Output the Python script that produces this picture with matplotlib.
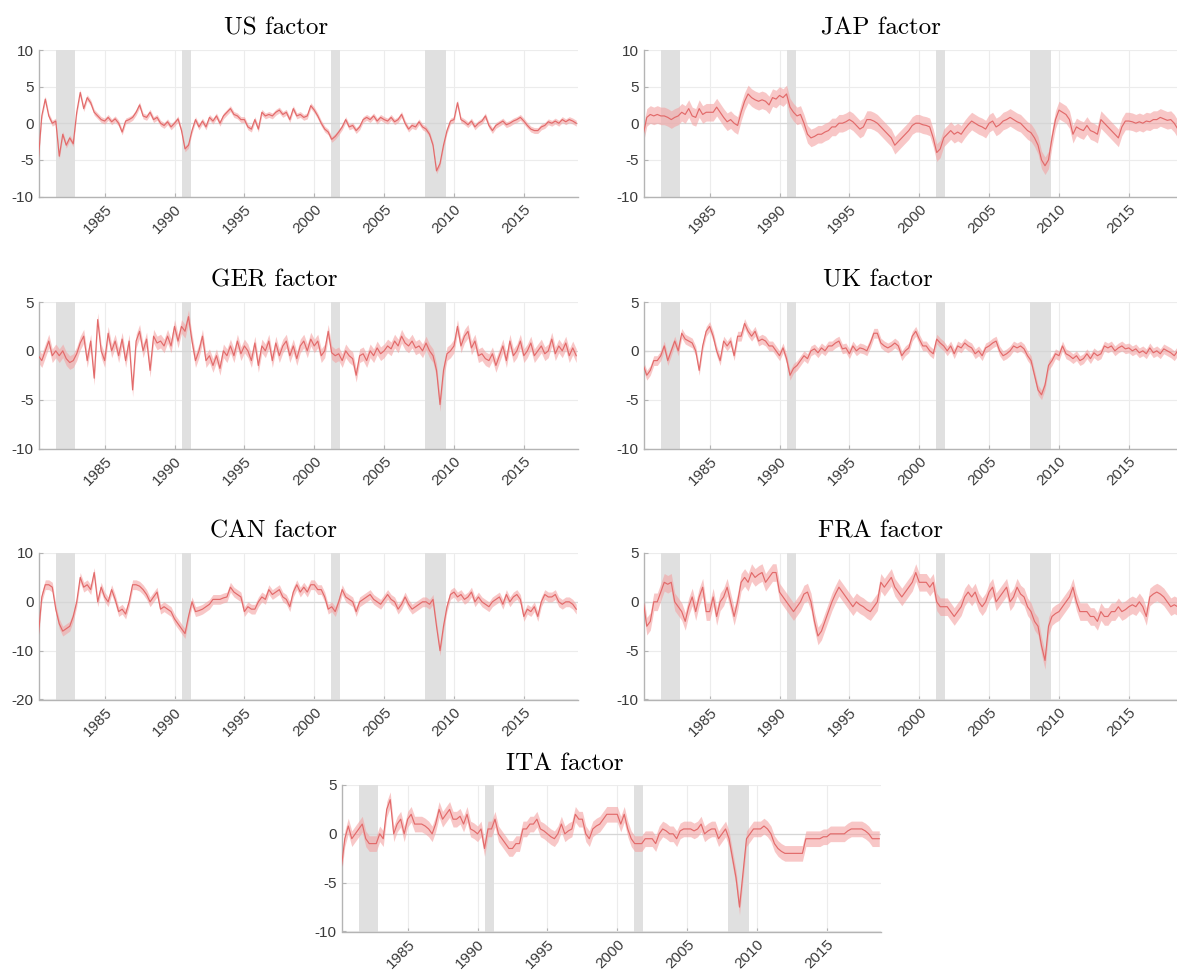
import numpy as np
import matplotlib.pyplot as plt

# quarterly observations, first one at 1980.25
START = 1980.25
STEP = 0.25

RECESSIONS = [(1981.55, 1982.85), (1990.55, 1991.2), (2001.2, 2001.85), (2007.95, 2009.45)]
YEAR_TICKS = [1985, 1990, 1995, 2000, 2005, 2010, 2015]

US = [
    -5.0, 1.0, 3.3,
    1.0, 0.0, 0.3, -4.5,
    -1.5, -3.0, -2.0, -2.8,
    1.5, 4.2, 2.0, 3.5,
    2.8, 1.5, 1.0, 0.5,
    0.3, 0.8, 0.2, 0.6,
    0.0, -1.2, 0.3, 0.5,
    0.8, 1.5, 2.5, 1.0,
    0.8, 1.5, 0.5, 0.8,
    0.0, -0.3, 0.2, -0.5,
    0.0, 0.6, -1.0, -3.5,
    -3.0, -1.0, 0.5, -0.5,
    0.3, -0.5, 0.8, 0.3,
    1.0, 0.0, 1.0, 1.5,
    2.0, 1.2, 1.0, 0.5,
    0.5, -0.5, -0.8, 0.5,
    -0.8, 1.5, 1.0, 1.2,
    1.0, 1.5, 1.8, 1.2,
    1.5, 0.5, 2.0, 1.0,
    1.2, 0.8, 1.0, 2.4,
    1.8, 1.0, 0.0, -0.8,
    -1.2, -2.2, -1.8, -1.2,
    -0.5, 0.5, -0.5, -0.3,
    -1.0, -0.5, 0.5, 0.8,
    0.5, 1.0, 0.3, 0.8,
    0.5, 0.3, 0.8, 0.2,
    0.5, 1.2, 0.0, -0.8,
    -0.3, -0.5, 0.2, -0.5,
    -0.8, -1.5, -3.0, -6.5,
    -5.5, -3.0, -1.0, 0.3,
    0.5, 2.8, 0.5, 0.2,
    -0.2, 0.3, -0.5, 0.0,
    0.3, 1.0, -0.3, -1.0,
    -0.3, 0.0, 0.3, -0.2,
    0.0, 0.3, 0.5, 0.8,
    0.3, -0.3, -0.8, -1.0,
    -1.0, -0.5, -0.3, 0.2,
    0.0, 0.3, 0.0, 0.5,
    0.2, 0.5, 0.3, 0.0,
]

JAP = [
    -1.5, 0.8, 1.2,
    1.0, 1.2, 1.0, 1.0,
    0.8, 0.5, 0.8, 1.0,
    1.5, 1.2, 2.0, 1.0,
    0.8, 2.0, 1.2, 1.5,
    1.5, 1.5, 2.2, 1.5,
    0.8, 0.2, 0.5, 0.0,
    -0.3, 1.5, 3.0, 4.0,
    3.5, 3.2, 3.0, 3.2,
    3.0, 2.5, 3.5, 3.3,
    3.8, 3.5, 4.0, 2.2,
    1.5, 1.0, 1.2, 0.0,
    -1.5, -2.0, -1.8, -1.5,
    -1.5, -1.2, -1.0, -0.5,
    -0.5, 0.0, 0.0, 0.2,
    0.5, 0.2, -0.3, -0.8,
    -0.5, 0.5, 0.5, 0.3,
    0.0, -0.5, -1.0, -1.5,
    -2.0, -3.0, -2.5, -2.0,
    -1.5, -1.0, -0.3, 0.0,
    0.0, -0.2, -0.3, -0.5,
    -2.0, -4.0, -3.5, -2.0,
    -1.5, -1.0, -1.5, -1.2,
    -1.5, -0.8, -0.2, 0.3,
    0.0, -0.3, -0.5, -0.8,
    0.0, 0.3, -0.5, -0.2,
    0.3, 0.5, 0.8, 0.5,
    0.2, 0.0, -0.5, -1.0,
    -1.3, -2.0, -3.0, -5.0,
    -5.8, -5.0, -2.0, 0.5,
    1.8, 1.5, 1.2, 0.5,
    -1.5, -0.5, -0.8, -1.0,
    -0.3, -1.0, -1.2, -1.5,
    0.5, 0.0, -0.5, -1.0,
    -1.5, -2.0, -0.5, 0.3,
    0.3, 0.2, 0.0, 0.2,
    0.0, 0.3, 0.2, 0.5,
    0.5, 0.8, 0.6, 0.4,
    0.5, 0.0, -0.8, -1.3,
]

GER = [
    -0.5, -1.0, 0.0,
    1.0, -0.5, 0.0, -0.5,
    0.0, -0.8, -1.2, -1.0,
    -0.3, 0.8, 1.5, -1.0,
    1.0, -2.8, 3.2, 0.0,
    -1.0, 1.8, 0.0, 1.0,
    -0.5, 1.2, -1.0, 1.0,
    -4.0, 1.0, 2.0, 0.0,
    1.2, -2.0, 1.5, 0.8,
    1.0, 0.5, 1.5, 0.5,
    2.5, 1.0, 2.5, 2.0,
    3.5, 1.0, -1.0, 0.0,
    1.5, -1.0, -0.5, -1.5,
    -0.5, -1.8, 0.0, -0.5,
    0.5, -0.5, 1.0, -0.3,
    0.5, 0.0, -1.0, 0.8,
    -1.5, 0.5, 0.0, 1.0,
    -1.0, 0.8, -0.5, 0.5,
    1.0, -0.5, 0.5, -0.8,
    0.5, 1.0, 0.0, 1.2,
    0.5, 1.0, -0.5, 0.0,
    2.0, -0.2, -0.5, -0.3,
    -1.0, 0.0, -0.5, -0.8,
    -2.5, -0.5, -0.3, -1.0,
    0.0, -0.5, 0.3, -0.3,
    0.0, 0.5, 0.2, 1.0,
    0.5, 1.5, 0.8, 0.5,
    1.0, 0.3, 0.5, 0.0,
    0.8, 0.0, -0.5, -2.0,
    -5.5, -2.0, -0.3, 0.0,
    0.5, 2.5, 0.5, 1.5,
    2.0, 0.3, 1.0, -0.5,
    -0.3, -0.8, -1.0, -0.3,
    -1.5, -0.5, 0.5, -1.0,
    1.0, -0.5, 0.0, 1.0,
    -0.5, 0.0, 0.8, -0.5,
    0.0, 0.5, -0.3, 0.0,
    1.2, -0.3, 0.5, 0.0,
    0.8, -0.5, 0.3, -0.5,
]

UK = [
    -1.5, -2.5, -2.0,
    -1.0, -1.0, -0.5, 0.5,
    -1.0, 0.0, 1.0, 0.0,
    1.8, 1.2, 1.0, 0.8,
    0.0, -2.0, 0.5, 2.0,
    2.5, 1.5, 0.0, -1.0,
    1.0, 0.5, 1.0, -0.5,
    1.5, 1.5, 2.8, 2.0,
    1.5, 2.0, 1.0, 1.2,
    1.0, 0.5, 0.5, 0.0,
    -0.5, 0.3, -0.8, -2.5,
    -1.8, -1.5, -1.0, -0.5,
    -0.8, 0.0, 0.2, -0.2,
    0.3, 0.0, 0.5, 0.5,
    0.8, 1.0, 0.2, 0.3,
    -0.3, 0.5, 0.0, 0.3,
    0.2, 0.0, 0.8, 1.8,
    1.8, 0.8, 0.5, 0.3,
    0.5, 0.8, 0.5, -0.5,
    0.0, 0.3, 1.5, 2.0,
    1.2, 0.5, 0.5, 0.0,
    -0.3, 1.2, 0.8, 0.5,
    0.0, 0.5, -0.3, 0.5,
    0.3, 0.8, 0.5, 0.3,
    -0.3, 0.0, -0.5, 0.3,
    0.5, 0.8, 1.0, 0.0,
    -0.5, -0.3, 0.0, 0.5,
    0.3, 0.5, 0.2, -0.5,
    -1.0, -2.5, -4.0, -4.5,
    -3.5, -1.5, -1.0, -0.3,
    -0.5, 0.5, -0.3, -0.5,
    -0.8, -0.5, -1.0, -0.8,
    -0.3, -0.8, -0.2, -0.5,
    -0.3, 0.5, 0.3, 0.5,
    0.0, 0.3, 0.5, 0.2,
    0.3, 0.0, 0.2, -0.2,
    0.0, -0.3, 0.3, -0.2,
    0.0, -0.3, 0.2, 0.0,
    -0.2, -0.5, 0.0, 0.0,
]

CAN = [
    -7.0, 1.0, 3.5,
    3.5, 3.0, -1.5, -4.5,
    -6.0, -5.5, -5.0, -3.0,
    0.0, 5.0, 3.0, 3.5,
    2.5, 6.0, 0.0, 3.0,
    1.0, 0.0, 2.5, 0.5,
    -2.0, -1.5, -2.5, 0.0,
    3.5, 3.5, 3.2, 2.5,
    1.5, 0.0, 1.0, 2.0,
    -1.5, -1.0, -1.5, -2.0,
    -3.5, -4.5, -5.5, -6.5,
    -3.0, 0.0, -2.0, -1.8,
    -1.5, -1.0, -0.5, 0.5,
    0.5, 0.5, 0.8, 1.0,
    3.0, 2.0, 1.5, 1.0,
    -2.0, -1.0, -1.5, -1.5,
    0.0, 1.0, 0.5, 2.5,
    1.5, 2.0, 2.5, 1.0,
    0.5, -1.0, 2.0, 3.5,
    2.0, 3.0, 2.0, 3.5,
    3.5, 2.5, 2.5, 1.0,
    -1.5, -1.0, -2.0, 0.0,
    2.5, 1.0, 0.5, 0.0,
    -2.0, 0.0, 0.5, 1.0,
    1.5, 0.5, 0.0, -0.5,
    0.5, 1.5, 0.5, 0.0,
    -1.5, -0.5, 1.0, -0.5,
    -1.5, -1.0, -0.5, 0.0,
    0.0, -0.5, 0.5, -5.0,
    -10.0, -5.0, -1.0, 1.5,
    2.0, 1.0, 1.5, 0.5,
    1.0, 2.0, 0.0, 1.0,
    0.0, -0.5, -1.0, 0.0,
    0.5, 1.0, -0.5, 1.5,
    0.0, 1.0, 1.5, 0.5,
    -3.0, -1.5, -2.0, -1.0,
    -3.0, 0.0, 1.5, 1.0,
    1.0, 1.5, 0.0, -0.5,
    0.0, 0.0, -0.5, -1.5,
]

FRA = [
    0.0, -2.5, -2.0,
    0.0, 0.0, 1.0, 2.0,
    1.8, 2.0, 0.0, -0.5,
    -1.0, -2.0, -0.5, 0.5,
    -1.0, 0.5, 1.5, -1.0,
    -1.0, 0.5, -1.5, 0.0,
    0.5, 1.5, 0.0, -1.5,
    0.0, 2.0, 2.5, 2.0,
    3.0, 2.5, 2.8, 3.0,
    2.0, 2.5, 3.0, 3.0,
    1.0, 0.5, 0.0, -0.5,
    -1.0, -0.5, 0.0, 0.8,
    1.0, 0.0, -2.0, -3.5,
    -3.0, -2.0, -1.0, 0.0,
    0.8, 1.5, 1.0, 0.5,
    0.0, -0.5, 0.0, -0.3,
    -0.5, -0.8, -1.0, -0.5,
    0.0, 2.0, 1.5, 2.0,
    2.5, 1.5, 1.0, 0.5,
    1.0, 1.5, 2.0, 3.0,
    2.0, 2.0, 2.0, 1.5,
    2.0, 0.0, -0.5, -0.5,
    -0.5, -1.0, -1.5, -1.0,
    -0.5, 0.5, 1.0, 0.5,
    1.0, 0.0, -0.5, 0.0,
    1.0, 1.5, 0.0, 0.5,
    1.0, 1.5, 0.0, 0.5,
    1.5, 0.8, 0.5, -0.5,
    -1.0, -2.0, -2.5, -4.5,
    -6.0, -2.5, -1.5, -1.2,
    -1.0, -0.5, 0.0, 0.5,
    1.5, 0.0, -1.0, -1.0,
    -1.0, -1.5, -1.5, -2.0,
    -1.0, -1.5, -1.5, -1.0,
    -1.0, -0.5, -1.0, -0.8,
    -0.5, -0.3, -0.5, 0.0,
    -0.5, -1.5, 0.5, 0.8,
    1.0, 0.8, 0.5, 0.0,
    -0.5, -0.3, -0.5, -0.8,
]

ITA = [
    -3.5, -0.5, 0.8,
    -0.5, 0.0, 0.5, 1.0,
    -0.5, -1.0, -1.0, -1.0,
    0.0, -0.5, 2.5, 3.5,
    0.0, 1.0, 1.5, 0.0,
    1.5, 2.0, 1.0, 1.0,
    1.0, 0.8, 0.5, 0.0,
    1.0, 2.5, 1.5, 2.0,
    2.5, 1.5, 1.5, 1.8,
    1.0, 2.0, 0.5, 0.3,
    0.0, 0.5, -1.5, 0.5,
    0.5, 1.5, 0.0, -0.5,
    -1.0, -1.5, -1.5, -1.0,
    -1.0, 0.5, 0.5, 1.0,
    1.0, 1.5, 0.5, 0.3,
    0.0, -0.3, -0.5, 0.0,
    1.0, 0.0, 0.3, 0.5,
    2.0, 1.5, 1.5, 0.0,
    -0.5, 0.5, 0.8, 1.0,
    1.5, 2.0, 2.0, 2.0,
    2.0, 1.0, 2.0, 0.5,
    -0.5, -1.0, -1.0, -1.0,
    -0.5, -0.5, -0.5, -1.0,
    0.0, 0.5, 0.3, 0.0,
    0.0, -0.5, 0.3, 0.5,
    0.5, 0.5, 0.3, 0.5,
    1.0, 0.0, 0.3, 0.5,
    0.5, -0.5, 0.0, 0.5,
    -0.5, -2.5, -4.5, -7.5,
    -4.0, -0.5, 0.0, 0.5,
    0.5, 0.5, 0.8, 0.5,
    0.0, -1.0, -1.5, -1.8,
    -2.0, -2.0, -2.0, -2.0,
    -2.0, -2.0, -0.5, -0.5,
    -0.5, -0.5, -0.5, -0.3,
    -0.3, 0.0, 0.0, 0.0,
    0.0, 0.0, 0.3, 0.5,
    0.5, 0.5, 0.5, 0.3,
    0.0, -0.5, -0.5, -0.5,
]

# half-width of the error band for each country
BANDS = {"US": 0.4, "JAP": 1.2, "GER": 0.7, "UK": 0.5, "CAN": 1.0, "FRA": 0.9, "ITA": 0.8}

PANELS = [
    ("US factor", US, "US", (-10, 10), [-10, -5, 0, 5, 10]),
    ("JAP factor", JAP, "JAP", (-10, 10), [-10, -5, 0, 5, 10]),
    ("GER factor", GER, "GER", (-10, 5), [-10, -5, 0, 5]),
    ("UK factor", UK, "UK", (-10, 5), [-10, -5, 0, 5]),
    ("CAN factor", CAN, "CAN", (-20, 10), [-20, -10, 0, 10]),
    ("FRA factor", FRA, "FRA", (-10, 5), [-10, -5, 0, 5]),
    ("ITA factor", ITA, "ITA", (-10, 5), [-10, -5, 0, 5]),
]

W, H = 1177, 971
# axes boxes in pixels: left, top, title centre x
BOXES = [(39, 50, 276), (644, 50, 881), (39, 302, 274), (644, 302, 878),
         (39, 553, 274), (644, 553, 880), (342, 785, 565)]
AX_W, AX_H = 538.5, 146.5

LINE_COLOR = "#e26a6a"
BAND_COLOR = "#f4a3a3"
AXIS_COLOR = "#b4b4b4"
TEXT_COLOR = "#3a3a3a"


def draw_panel(fig, box, title, values, key, ylim, yticks):
    left, top, title_x = box
    ax = fig.add_axes([left / W, 1 - (top + AX_H) / H, AX_W / W, AX_H / H])

    y = np.array(values)
    x = START + STEP * np.arange(len(y))
    band = BANDS[key]

    for a, b in RECESSIONS:
        ax.axvspan(a, b, color="#e0e0e0", lw=0, zorder=1)

    ax.axhline(0, color="#d6d6d6", lw=0.9, zorder=1.5)
    ax.fill_between(x, y - band, y + band, color=BAND_COLOR, alpha=0.6, lw=0, zorder=2)
    ax.plot(x, y, color=LINE_COLOR, lw=0.85, zorder=3)

    ax.set_xlim(1980.3, 2018.84)
    ax.set_ylim(*ylim)
    ax.set_xticks(YEAR_TICKS)
    ax.set_yticks(yticks)
    ax.set_xticklabels([str(t) for t in YEAR_TICKS], rotation=45, ha="right",
                       rotation_mode="anchor")
    ax.set_yticklabels([str(t) for t in yticks])

    ax.grid(True, color="#ececec", lw=0.8, zorder=0)
    ax.set_axisbelow(True)
    for side in ["top", "right"]:
        ax.spines[side].set_visible(False)
    for side in ["left", "bottom"]:
        ax.spines[side].set_color(AXIS_COLOR)
        ax.spines[side].set_linewidth(1.0)
    ax.tick_params(direction="in", length=3, color=AXIS_COLOR, labelcolor=TEXT_COLOR,
                   labelsize=11, pad=4)
    for lab in ax.get_xticklabels() + ax.get_yticklabels():
        lab.set_fontfamily("Liberation Sans")

    # titles sit a little left of the axes centre in the original
    tx = (title_x - left) / AX_W
    ax.set_title(title, fontfamily="cmr10", fontsize=18, pad=11, color="black", x=tx)


def main():
    fig = plt.figure(figsize=(W / 100, H / 100), dpi=100)
    for box, (title, values, key, ylim, yticks) in zip(BOXES, PANELS):
        draw_panel(fig, box, title, values, key, ylim, yticks)
    fig.savefig("out.png", dpi=100)


if __name__ == "__main__":
    main()
